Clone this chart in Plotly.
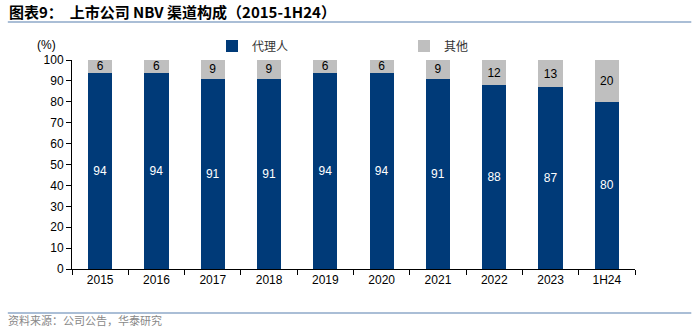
import plotly.graph_objects as go

categories = ["2015", "2016", "2017", "2018", "2019", "2020", "2021", "2022", "2023", "1H24"]
agent = [94, 94, 91, 91, 94, 94, 91, 88, 87, 80]
other = [6, 6, 9, 9, 6, 6, 9, 12, 13, 20]

FONT = "Liberation Sans, Arial, Noto Sans CJK SC, sans-serif"
CJK = "Noto Sans CJK SC, sans-serif"

fig = go.Figure()
fig.add_trace(go.Bar(
    x=categories, y=agent, name="代理人",
    marker=dict(color="#003A78", line=dict(width=0)),
    text=agent, textposition="inside", insidetextanchor="middle", constraintext="none",
    textangle=0, textfont=dict(color="white", size=12, family=FONT),
))
fig.add_trace(go.Bar(
    x=categories, y=other, name="其他",
    marker=dict(color="#BFBFBF", line=dict(width=0)),
    text=other, textposition="inside", insidetextanchor="middle", constraintext="none",
    textangle=0, textfont=dict(color="black", size=12, family=FONT),
))

fig.update_layout(
    width=700, height=328,
    barmode="stack", bargap=0.57,
    margin=dict(l=72, r=65, t=60, b=59, autoexpand=False),
    paper_bgcolor="white", plot_bgcolor="white",
    font=dict(family=FONT, size=12, color="black"),
    showlegend=True,
    legend=dict(orientation="h", traceorder="normal",
                x=212 / 700, xref="container", y=1 - 46 / 328, yref="container",
                xanchor="left", yanchor="middle",
                entrywidth=147, entrywidthmode="pixels",
                font=dict(family=CJK, size=12, color="#333"),
                itemwidth=30, bgcolor="rgba(0,0,0,0)"),
    xaxis=dict(
        type="category", showline=True, linecolor="black", linewidth=1,
        ticks="outside", tickson="boundaries", ticklen=5, tickcolor="black",
        tickfont=dict(size=12, color="black"), showgrid=False,
    ),
    yaxis=dict(
        range=[0, 100], dtick=10, showline=True, linecolor="black", linewidth=1,
        ticks="outside", ticklen=5, tickcolor="black", showgrid=False,
        tickfont=dict(size=12, color="black"), zeroline=False,
    ),
    annotations=[
        dict(text="<b>图表9：  上市公司 NBV 渠道构成（2015-1H24）</b>", xref="paper", yref="paper",
             x=-0.115, y=(269 - 12) / 209, xanchor="left", yanchor="middle", showarrow=False,
             font=dict(family=CJK, size=15, color="black")),
        dict(text="(%)", xref="paper", yref="paper", x=-0.025, y=(269 - 45) / 209, xanchor="right",
             yanchor="middle", showarrow=False, font=dict(size=12, color="black")),
        dict(text="资料来源：公司公告，华泰研究", xref="paper", yref="paper",
             x=-0.118, y=(269 - 320) / 209, xanchor="left", yanchor="middle", showarrow=False,
             font=dict(family=CJK, size=11, color="#888")),
    ],
    shapes=[
        dict(type="line", xref="paper", yref="paper", x0=-0.114, x1=1.1, y0=(269 - 22) / 209,
             y1=(269 - 22) / 209, line=dict(color="#8EA9C8", width=1.5)),
        dict(type="line", xref="paper", yref="paper", x0=-0.114, x1=1.1, y0=(269 - 313) / 209,
             y1=(269 - 313) / 209, line=dict(color="#8EA9C8", width=1.5)),
    ],
)

fig.write_html("out.html")
